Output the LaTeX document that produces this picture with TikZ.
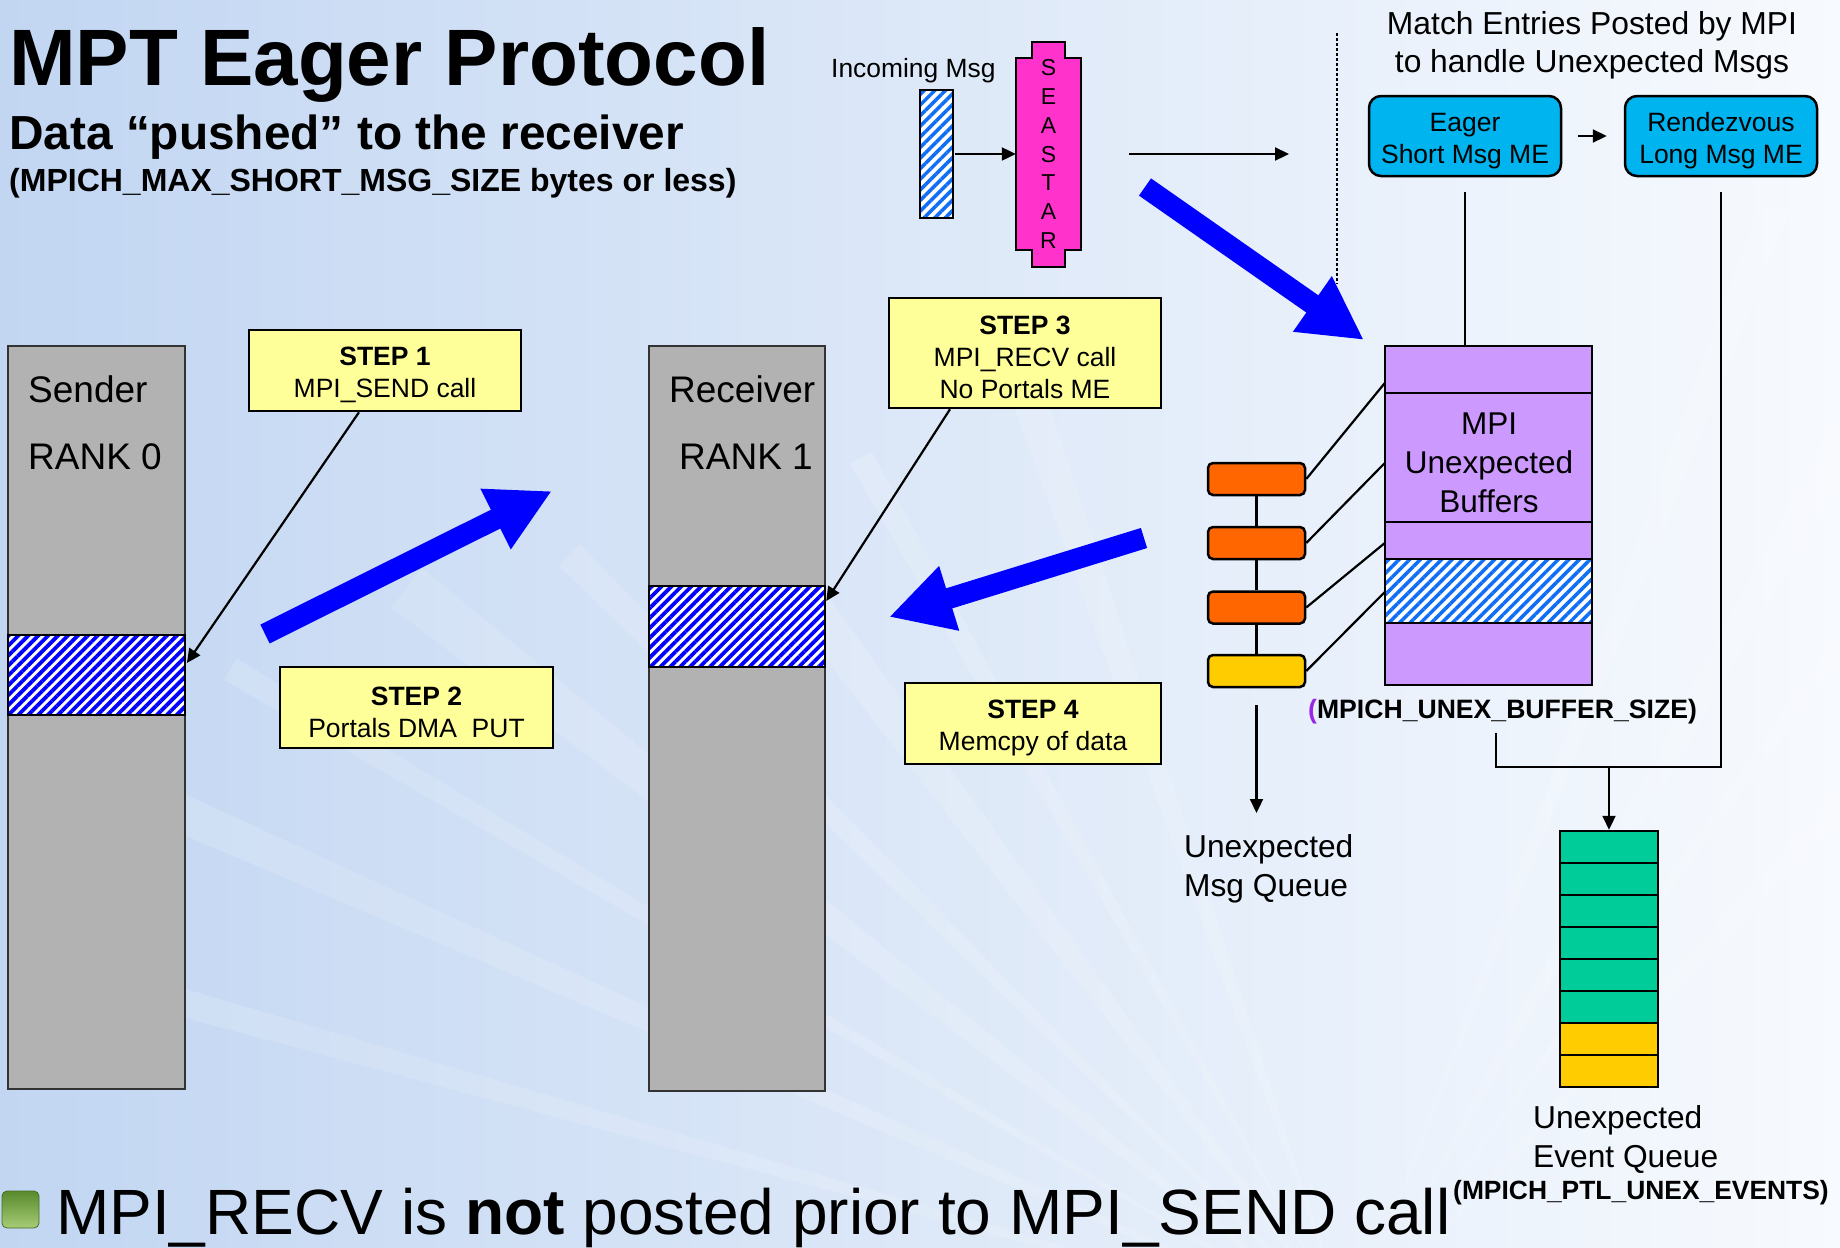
\documentclass[tikz,border=0pt]{standalone}
\usepackage{fontspec}
\setmainfont{Liberation Sans}
\usetikzlibrary{arrows.meta,patterns.meta,calc}

\definecolor{bgL}{RGB}{194,214,242}
\definecolor{bgR}{RGB}{247,250,254}
\definecolor{stepY}{RGB}{255,255,153}
\definecolor{seastar}{RGB}{255,51,204}
\definecolor{meCyan}{RGB}{0,180,240}
\definecolor{unexPurple}{RGB}{204,153,255}
\definecolor{qOrange}{RGB}{255,102,0}
\definecolor{qYellow}{RGB}{255,204,0}
\definecolor{evGreen}{RGB}{0,204,153}
\definecolor{memGray}{RGB}{178,178,178}
\definecolor{hatchDark}{RGB}{0,0,255}
\definecolor{hatchLight}{RGB}{15,110,245}
\definecolor{bulletTop}{RGB}{88,138,44}
\definecolor{bulletBot}{RGB}{168,204,118}
\definecolor{parenPurple}{RGB}{150,40,230}

\newcommand\fsz[2]{\fontsize{#1}{#2}\selectfont}
% extra room above the first line of a boxed label
\newcommand\topgap{\rule{0pt}{28pt}}

\tikzset{
  membox/.style={draw=black!80, line width=2.5pt, fill=memGray, inner sep=0pt},
  darkhatch/.style={draw=black, line width=2.5pt, inner sep=0pt, preaction={fill=white},
    pattern={Lines[angle=45,distance=7pt,line width=3.8pt]}, pattern color=hatchDark},
  lighthatch/.style={draw=black, line width=2.5pt, inner sep=0pt, preaction={fill=white},
    pattern={Lines[angle=45,distance=7.5pt,line width=3.5pt]}, pattern color=hatchLight},
  stepbox/.style={draw=black, line width=2.5pt, fill=stepY, inner sep=0pt, align=center,
    font=\fsz{26.5}{32}},
  mebox/.style={draw=black, line width=2.5pt, fill=meCyan, rounded corners=12pt, inner sep=0pt,
    align=center, font=\fsz{26.5}{32}, minimum width=192pt, minimum height=80pt},
  qbox/.style={draw=black, line width=2.5pt, rounded corners=5pt, inner sep=0pt,
    minimum width=97pt, minimum height=32pt},
  conn/.style={line width=2.2pt, draw=black},
  tipconn/.style={conn, -{Triangle[length=14pt,width=13pt]}},
  bigarrow/.style={draw=hatchDark, line width=21pt, -{Triangle[length=63pt,width=63pt]}},
  txt/.style={inner sep=0pt, anchor=base west},
}

\begin{document}
\begin{tikzpicture}[x=1pt,y=-1pt]
\useasboundingbox (0,0) rectangle (1840,1248);

% backdrop with faint light rays rising from the lower middle
\shade[left color=bgL, right color=bgR] (0,0) rectangle (1840,1248);
\begin{scope}
  \clip (0,0) rectangle (1840,1248);
  \foreach \ang/\w/\len in {-165/30/1300,-157/40/1350,-150/25/1300,-143/50/1200,-136/30/1100,-128/45/1000,-120/25/1000,-110/35/1000,-70/30/1200,-62/45/1300,-55/25/1300,-48/40/1200}
    \fill[white, opacity=0.14] (1350,1330) -- ++(\ang:\len) -- ++({\ang+90}:\w) -- cycle;
\end{scope}

% headings
\node[txt, font=\bfseries\fsz{80}{80}] (title) at (9,85) {MPT Eager Protocol};
\node[txt, font=\bfseries\fsz{47.8}{50}] (subtitle) at (9,149) {Data “pushed” to the receiver};
\node[txt, font=\bfseries\fsz{32}{34}] (sizenote) at (9,191) {(MPICH\_MAX\_SHORT\_MSG\_SIZE bytes or less)};

% sender and receiver memory
\node[membox, minimum width=177pt, minimum height=743pt] (sender) at (96.5,717.5) {};
\node[darkhatch, minimum width=177pt, minimum height=80pt] (sendbuf) at (96.5,675) {};
\node[txt, font=\fsz{37}{40}] (sendlbl) at (28,402) {Sender};
\node[txt, font=\fsz{37}{40}] (sendrank) at (28,469) {RANK 0};

\node[membox, minimum width=176pt, minimum height=745pt] (receiver) at (737,718.5) {};
\node[darkhatch, minimum width=176pt, minimum height=81pt] (recvbuf) at (737,626.5) {};
\node[txt, font=\fsz{37}{40}] (recvlbl) at (669,402) {Receiver};
\node[txt, font=\fsz{37}{40}] (recvrank) at (679,469) {RANK 1};

% step call-outs
\node[stepbox, minimum width=272pt, minimum height=81pt] (s1) at (385,370.5) {\topgap\textbf{STEP 1}\\MPI\_SEND call};
\node[stepbox, minimum width=273pt, minimum height=81pt] (s2) at (416.5,707.5) {\topgap\textbf{STEP 2}\\Portals DMA\ \ PUT};
\node[stepbox, minimum width=272pt, minimum height=110pt] (s3) at (1025,353) {\topgap\textbf{STEP 3}\\MPI\_RECV call\\No Portals ME};
\node[stepbox, minimum width=256pt, minimum height=81pt] (s4) at (1033,723.5) {\topgap\textbf{STEP 4}\\Memcpy of data};

\draw[tipconn] ([xshift=-26pt]s1.south) -- ([yshift=12pt]sendbuf.east);
\draw[tipconn] ([xshift=-75pt]s3.south) -- ([yshift=25.5pt]recvbuf.east);

% big transfer arrows
\coordinate (putA) at (265,634);  \coordinate (putB) at (552,491);
\coordinate (cpyA) at (1144,538); \coordinate (cpyB) at (889,617);
\coordinate (inA)  at (1145,187); \coordinate (inB)  at (1364,340);
\draw[bigarrow] (putA) -- (putB);
\draw[bigarrow] (cpyA) -- (cpyB);
\draw[bigarrow] (inA) -- (inB);

% incoming message and SeaStar
\node[txt, font=\fsz{26.4}{30}] (inlbl) at (831,77) {Incoming Msg};
\node[lighthatch, minimum width=33pt, minimum height=128pt] (inmsg) at (936.5,154) {};
\draw[line width=2.5pt, fill=seastar] (1016,58) -- (1032,58) -- (1032,42) -- (1065,42) -- (1065,58)
  -- (1081,58) -- (1081,250) -- (1065,250) -- (1065,267) -- (1032,267) -- (1032,250) -- (1016,250) -- cycle;
\node[inner sep=0pt, minimum width=65pt, minimum height=192pt, align=center, font=\fsz{23}{28.7}]
  (seastar) at (1048.5,154) {S\\E\\A\\S\\T\\A\\R};
\draw[tipconn] (inmsg.east) -- (seastar.west);
\coordinate (fwdA) at (1129,154); \coordinate (fwdB) at (1289,154);
\draw[tipconn] (fwdA) -- (fwdB);

% divider
\coordinate (divT) at (1337,33); \coordinate (divB) at (1337,284);
\draw[line width=2.5pt, dash pattern=on 2.5pt off 2.5pt] (divT) -- (divB);

% match entries
\node[align=center, inner sep=0pt, font=\fsz{31.8}{38}] (mehead) at (1592,45)
  {Match Entries Posted by MPI\\to handle Unexpected Msgs};
\node[mebox] (eager) at (1465,136) {\topgap Eager\\Short Msg ME};
\node[mebox] (rendez) at (1721,136) {\topgap Rendezvous\\Long Msg ME};
\draw[tipconn, shorten <=16pt, shorten >=17pt] (eager) -- (rendez);

% unexpected buffers
\node[inner sep=0pt, minimum width=207pt, minimum height=339pt, fill=unexPurple] (unexbuf) at (1488.5,515.5) {};
\node[lighthatch, draw=none, minimum width=207pt, minimum height=64pt] (unexhatch) at (1488.5,591) {};
\foreach \yy in {393,522,559,623}
  \draw[line width=2.5pt] (1385,\yy) -- (1592,\yy);
\draw[line width=2.5pt] (unexbuf.north west) rectangle (unexbuf.south east);
\node[align=center, inner sep=0pt, font=\fsz{31.5}{39}] (unexlbl) at (1489,463) {MPI\\Unexpected\\Buffers};
\node[txt, font=\bfseries\fsz{26.6}{30}] (unexsize) at (1308,718) {\textcolor{parenPurple}{(}MPICH\_UNEX\_BUFFER\_SIZE)};

\draw[conn] ([yshift=-15pt]eager.south) -- (eager.south |- unexbuf.north);

% unexpected message queue
\node[qbox, fill=qOrange] (q1) at (1256.5,479) {};
\node[qbox, fill=qOrange] (q2) at (1256.5,543) {};
\node[qbox, fill=qOrange] (q3) at (1256.5,607.5) {};
\node[qbox, fill=qYellow] (q4) at (1256.5,671) {};
\draw[conn] (q1) -- (q2);
\draw[conn] (q2) -- (q3);
\draw[conn] (q3) -- (q4);
\draw[conn] (q1.east) -- ([yshift=132.5pt]unexbuf.west);
\draw[conn] (q2.east) -- ([yshift=52.5pt]unexbuf.west);
\draw[conn] (q3.east) -- ([yshift=-27.5pt]unexbuf.west);
\draw[conn] (q4.east) -- ([yshift=-76.5pt]unexbuf.west);

\node[align=left, inner sep=0pt, anchor=west, font=\fsz{31.7}{39}] (msgq) at (1184,868.5) {Unexpected\\Msg Queue};
\coordinate (msgqTip) at (1256.5,813);
\draw[tipconn] ([yshift=-17pt]q4.south) -- (msgqTip);

% unexpected event queue
\foreach \i/\c in {0/evGreen,1/evGreen,2/evGreen,3/evGreen,4/evGreen,5/evGreen,6/qYellow,7/qYellow}
  \draw[line width=2.5pt, fill=\c] (1560,{831+32*\i}) rectangle (1658,{863+32*\i});
\node[inner sep=0pt, minimum width=98pt, minimum height=256pt, draw, line width=2.5pt] (evq) at (1609,959) {};
\coordinate (joinL) at (1496,733);
\coordinate (joinM) at (1609,767);
\draw[conn] ([yshift=-15pt]rendez.south) |- (joinM) -| (joinL);
\draw[tipconn] (joinM) -- (evq.north);

\node[align=left, inner sep=0pt, anchor=west, font=\fsz{31.7}{39}] (evqlbl) at (1533,1139.5) {Unexpected\\Event Queue};
\node[txt, font=\bfseries\fsz{26.4}{30}] (evsize) at (1453,1199) {(MPICH\_PTL\_UNEX\_EVENTS)};

% bottom bullet line
\shade[top color=bulletTop, bottom color=bulletBot, rounded corners=5pt, draw=bulletTop!80!black, line width=0.8pt]
  (2,1191) rectangle (39,1228);
\node[txt, font=\fsz{64}{70}] (note) at (56,1234) {MPI\_RECV is \textbf{not} posted prior to MPI\_SEND call};

\end{tikzpicture}
\end{document}
